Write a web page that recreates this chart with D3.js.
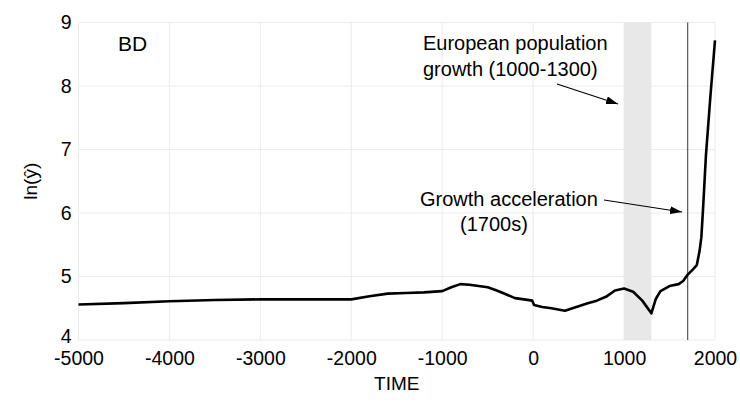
<!DOCTYPE html>
<html>
<head>
<meta charset="utf-8">
<script src="https://cdn.jsdelivr.net/npm/d3@7"></script>
<style>
  body { margin: 0; background: #fff; }
  svg text { font-family: "Liberation Sans", Arial, sans-serif; fill: #000; }
</style>
</head>
<body>
<div id="chart"></div>
<script>
// series
const years = [-5000, -4500, -4000, -3500, -3000, -2500, -2000, -1800, -1600, -1400, -1200, -1000,
  -900, -800, -700, -500, -400, -300, -200, -100, -10, 10, 100, 200, 350, 500, 600, 700, 800, 900,
  1000, 1100, 1200, 1300, 1350, 1400, 1500, 1600, 1650, 1700, 1750, 1800, 1830, 1850, 1870, 1900, 1950, 2000];
const lnY = [4.56, 4.58, 4.61, 4.63, 4.64, 4.64, 4.64, 4.69, 4.73, 4.74, 4.75, 4.77,
  4.83, 4.88, 4.87, 4.83, 4.78, 4.72, 4.66, 4.64, 4.62, 4.55, 4.52, 4.50, 4.46, 4.53, 4.58, 4.62, 4.68, 4.78,
  4.81, 4.76, 4.62, 4.42, 4.65, 4.77, 4.85, 4.88, 4.93, 5.03, 5.10, 5.18, 5.40, 5.62, 6.10, 6.90, 7.85, 8.72];

const xTicks = [-5000, -4000, -3000, -2000, -1000, 0, 1000, 2000];
const yTicks = [4, 5, 6, 7, 8, 9];
const band = [1000, 1300];
const accelYear = 1700;
const panelLabel = 'BD';

const width = 740, height = 412;
const margin = { top: 22.5, right: 25, bottom: 72, left: 78.5 };
const font = '"Liberation Sans", Arial, sans-serif';

const svg = d3.select('#chart').append('svg')
  .attr('width', width)
  .attr('height', height);

const x = d3.scaleLinear().domain([-5000, 2000]).range([margin.left, width - margin.right]);
const y = d3.scaleLinear().domain([4, 9]).range([height - margin.bottom, margin.top]);

// grid
svg.append('g').selectAll('line').data(xTicks).join('line')
  .attr('x1', d => x(d)).attr('x2', d => x(d))
  .attr('y1', y(4)).attr('y2', y(9))
  .attr('stroke', '#ebebeb').attr('stroke-width', 1);
svg.append('g').selectAll('line').data(yTicks).join('line')
  .attr('x1', x(-5000)).attr('x2', x(2000))
  .attr('y1', d => y(d)).attr('y2', d => y(d))
  .attr('stroke', '#ebebeb').attr('stroke-width', 1);

// shaded period + acceleration line
svg.append('rect')
  .attr('x', x(band[0])).attr('width', x(band[1]) - x(band[0]))
  .attr('y', y(9)).attr('height', y(4) - y(9))
  .attr('fill', '#e8e8e8');
svg.append('line')
  .attr('x1', x(accelYear)).attr('x2', x(accelYear))
  .attr('y1', y(9)).attr('y2', y(4))
  .attr('stroke', '#333').attr('stroke-width', 1);

// series
const data = years.map((t, i) => ({ t, v: lnY[i] }));
svg.append('path')
  .datum(data)
  .attr('fill', 'none')
  .attr('stroke', '#000')
  .attr('stroke-width', 2.6)
  .attr('stroke-linejoin', 'round')
  .attr('d', d3.line().x(d => x(d.t)).y(d => y(d.v)));

// axes (plain hyphen for negatives, like the reference)
const xAxis = svg.append('g')
  .attr('transform', `translate(0,${y(4)})`)
  .call(d3.axisBottom(x).tickValues(xTicks).tickSize(0).tickPadding(11).tickFormat(d => String(d)));
xAxis.select('.domain').remove();
xAxis.selectAll('text').attr('font-size', 19.5).attr('font-family', font);

const yAxis = svg.append('g')
  .attr('transform', `translate(${x(-5000)},0)`)
  .call(d3.axisLeft(y).tickValues(yTicks).tickSize(0).tickPadding(7).tickFormat(d => String(d)));
yAxis.select('.domain').remove();
yAxis.selectAll('text').attr('font-size', 19.5).attr('font-family', font)
  .attr('dy', d => d === 4 ? '0.12em' : '0.32em');

// titles
svg.append('text')
  .attr('x', (x(-5000) + x(2000)) / 2).attr('y', 390)
  .attr('text-anchor', 'middle').attr('font-size', 19)
  .text('TIME');
svg.append('text')
  .attr('transform', `translate(37,${(y(4) + y(9)) / 2}) rotate(-90)`)
  .attr('text-anchor', 'middle').attr('font-size', 19)
  .text('ln(ŷ)');
svg.append('text')
  .attr('x', 118).attr('y', 51)
  .attr('font-size', 21)
  .text(panelLabel);

// annotations
svg.append('defs').append('marker')
  .attr('id', 'arrow')
  .attr('viewBox', '0 0 12 8')
  .attr('refX', 12).attr('refY', 4)
  .attr('markerWidth', 12).attr('markerHeight', 8)
  .attr('markerUnits', 'userSpaceOnUse')
  .attr('orient', 'auto')
  .append('path').attr('d', 'M0,0 L12,4 L0,8 Z').attr('fill', '#000');

const notes = svg.append('g').attr('font-size', 20);
notes.append('text').attr('x', 423).attr('y', 50).text('European population');
notes.append('text').attr('x', 423).attr('y', 76).text('growth (1000-1300)');
notes.append('text').attr('x', 420).attr('y', 206).text('Growth acceleration');
notes.append('text').attr('x', 460).attr('y', 231).text('(1700s)');

svg.append('line')
  .attr('x1', 557).attr('y1', 84).attr('x2', 618).attr('y2', 104)
  .attr('stroke', '#000').attr('stroke-width', 1.2)
  .attr('marker-end', 'url(#arrow)');
svg.append('line')
  .attr('x1', 604).attr('y1', 200).attr('x2', 682).attr('y2', 212)
  .attr('stroke', '#000').attr('stroke-width', 1.2)
  .attr('marker-end', 'url(#arrow)');
</script>
</body>
</html>
